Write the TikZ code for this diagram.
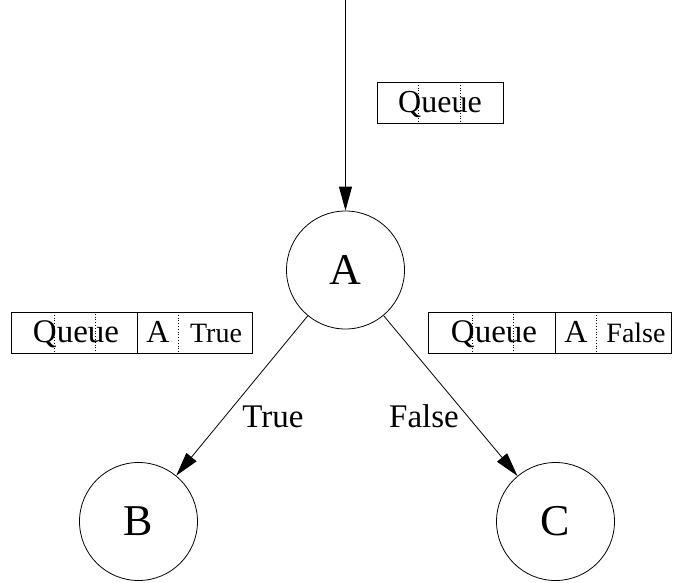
\documentclass[tikz,border=0pt]{standalone}
\usepackage{fontspec}
\setmainfont{Liberation Serif}
\usetikzlibrary{arrows.meta}
\newcommand{\fs}[1]{\fontsize{#1}{#1}\selectfont}
\tikzset{
  state/.style={circle, draw, line width=0.8pt, minimum size=118pt, inner sep=0pt, font=\fs{44}},
  flow/.style={line width=0.8pt, -{Triangle[length=24pt,width=13pt]}},
  frame/.style={draw, line width=0.8pt},
  sep/.style={line width=0.8pt},
  dots/.style={line width=0.8pt, dotted},
  txt/.style={anchor=base, inner sep=0pt},
}
\begin{document}
\begin{tikzpicture}[x=1pt,y=-1pt]
\useasboundingbox (0,0) rectangle (673,582);

% states
\node[state] (A) at (345.5,270) {A};
\node[state] (B) at (138.5,521.5) {B};
\node[state] (C) at (555.5,521.5) {C};

% incoming edge
\coordinate (in) at (345.5,0);
\draw[flow] (in) -- (A);

% branches
\draw[flow] (A) -- (B);
\draw[flow] (A) -- (C);
\node[txt, font=\fs{33}] (lt) at (273,427) {True};
\node[txt, font=\fs{33}] (lf) at (424,427) {False};

% queue before A
\draw[frame] (377,82) rectangle (503,123);
\draw[dots] (418,82) rectangle (460,123);
\node[txt, font=\fs{32}] (q0) at (440,112) {Queue};

% queue on the True branch
\draw[frame] (11,312) rectangle (252,353);
\draw[sep] (137,312) -- (137,353);
\draw[dots] (178,312) -- (178,353);
\draw[dots] (54,312) rectangle (95,353);
\node[txt, font=\fs{33}] (q1) at (76,342) {Queue};
\node[txt, font=\fs{32}] (a1) at (158,342) {A};
\node[txt, font=\fs{28}] (t1) at (216,342) {True};

% queue on the False branch
\draw[frame] (428,312) rectangle (671.5,353);
\draw[sep] (555,312) -- (555,353);
\draw[dots] (596,312) -- (596,353);
\draw[dots] (472,312) rectangle (513,353);
\node[txt, font=\fs{33}] (q2) at (494,342) {Queue};
\node[txt, font=\fs{32}] (a2) at (576,342) {A};
\node[txt, font=\fs{28}] (f2) at (636,342) {False};
\end{tikzpicture}
\end{document}
